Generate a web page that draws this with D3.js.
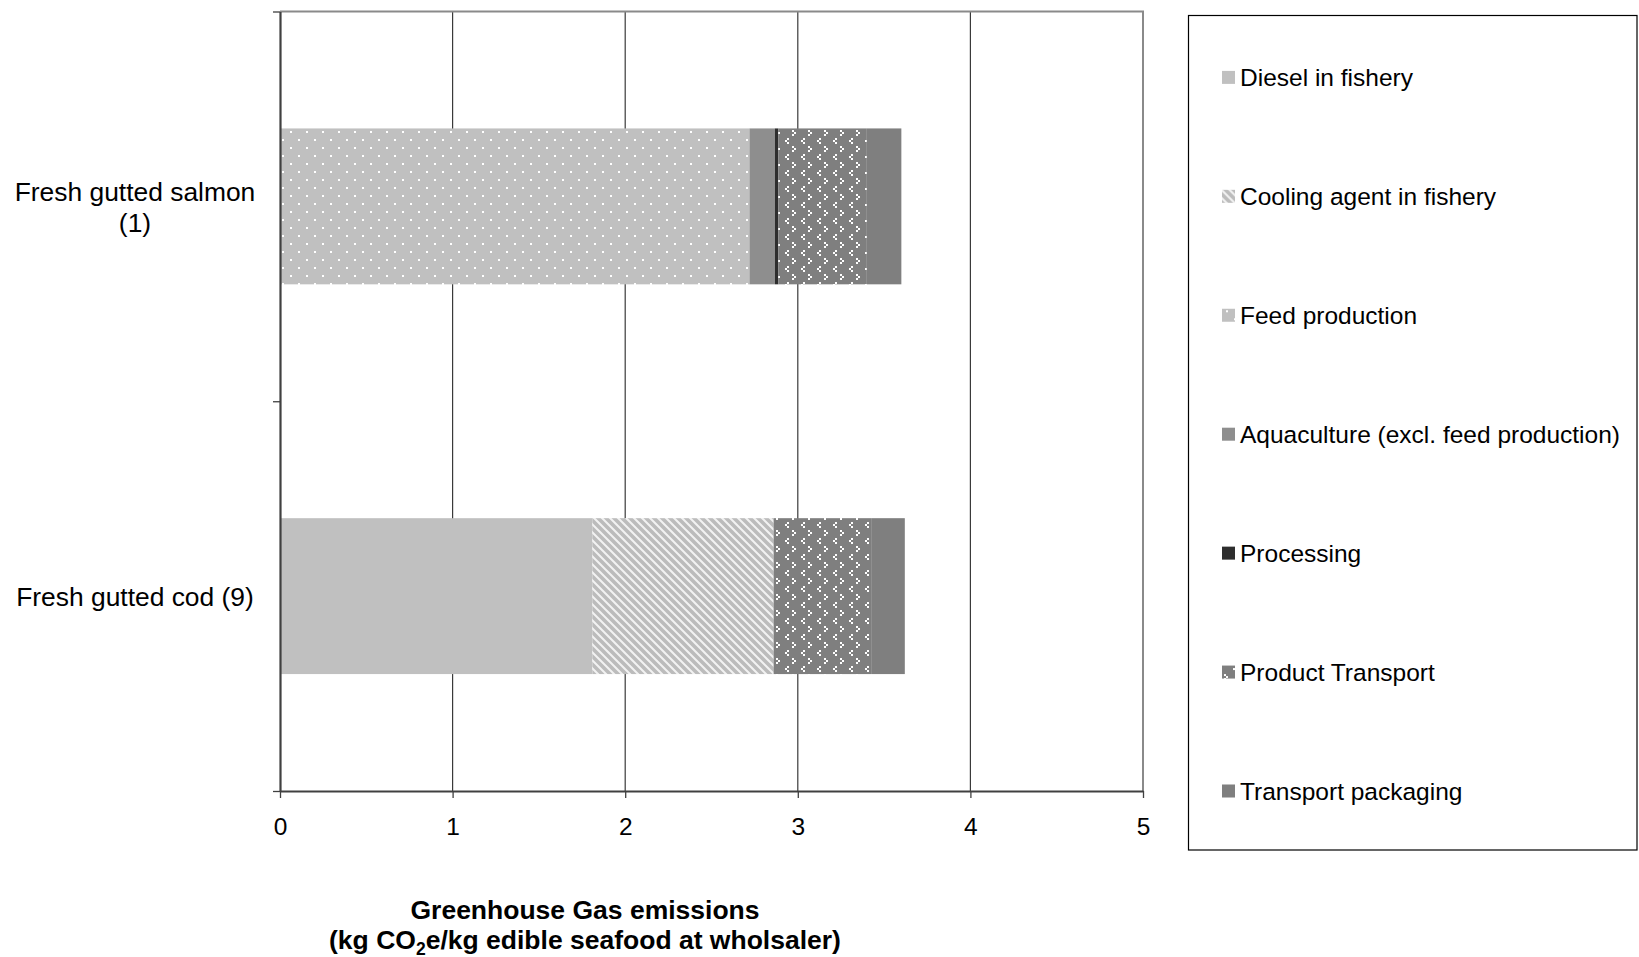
<!DOCTYPE html>
<html>
<head>
<meta charset="utf-8">
<script src="https://cdn.jsdelivr.net/npm/d3@7"></script>
<style>
  html, body { margin: 0; padding: 0; background: #fff; }
  svg { display: block; font-family: "Liberation Sans", Arial, sans-serif; }
</style>
</head>
<body>
<svg id="chart" width="1639" height="957"></svg>
<script>
// Products (top to bottom) and their label lines
const categories = ["salmon", "cod"];
const categoryLabels = [["Fresh gutted salmon", "(1)"], ["Fresh gutted cod (9)"]];

// Emission contributions, kg CO2e per kg edible seafood, per product [salmon, cod]
const seriesNames = [
  "Diesel in fishery",
  "Cooling agent in fishery",
  "Feed production",
  "Aquaculture (excl. feed production)",
  "Processing",
  "Product Transport",
  "Transport packaging"
];
const dieselInFishery = [0, 1.81];
const coolingAgent = [0, 1.05];
const feedProduction = [2.72, 0];
const aquaculture = [0.147, 0];
const processing = [0.02, 0];
const productTransport = [0.513, 0.565];
const transportPackaging = [0.2, 0.195];

const xTicks = [0, 1, 2, 3, 4, 5];

const seriesValues = [dieselInFishery, coolingAgent, feedProduction, aquaculture,
                      processing, productTransport, transportPackaging];
const table = categories.map((c, i) => {
  const row = { category: c };
  seriesNames.forEach((s, j) => row[s] = seriesValues[j][i]);
  return row;
});

const svg = d3.select("#chart");
const plot = { left: 280, right: 1143, top: 11.5, bottom: 791 };

const x = d3.scaleLinear().domain([0, 5]).range([plot.left, plot.right]);
const y = d3.scaleBand().domain(categories).range([plot.top, plot.bottom])
  .paddingInner(0.6).paddingOuter(0.3);

// ---- fill patterns ----
const defs = svg.append("defs");

// small white dots on light grey
const pDots = defs.append("pattern").attr("id", "pat-dots")
  .attr("patternUnits", "userSpaceOnUse").attr("width", 16).attr("height", 16);
pDots.append("rect").attr("width", 16).attr("height", 16).attr("fill", "#c0c0c0");
pDots.append("rect").attr("x", 2).attr("y", 3).attr("width", 2).attr("height", 2).attr("fill", "#fff");
pDots.append("rect").attr("x", 10).attr("y", 11).attr("width", 2).attr("height", 2).attr("fill", "#fff");

// light grey downward diagonal stripes
const pDiag = defs.append("pattern").attr("id", "pat-diag")
  .attr("patternUnits", "userSpaceOnUse").attr("width", 8).attr("height", 8);
pDiag.append("rect").attr("width", 8).attr("height", 8).attr("fill", "#f2f2f2");
pDiag.append("path").attr("d", "M-1,-1 L9,9 M-3,5 L3,11 M5,-3 L11,3")
  .attr("stroke", "#bcbcbc").attr("stroke-width", 3.6);

// white chevrons on mid grey
const pChev = defs.append("pattern").attr("id", "pat-chev")
  .attr("patternUnits", "userSpaceOnUse").attr("width", 16).attr("height", 16);
pChev.append("rect").attr("width", 16).attr("height", 16).attr("fill", "#7f7f7f");
[[8, 2], [10, 4], [8, 6]].forEach(([a, b]) =>
  pChev.append("rect").attr("x", a).attr("y", b).attr("width", 2).attr("height", 2).attr("fill", "#fff"));
[[3, 10], [1, 12], [3, 14]].forEach(([a, b]) =>
  pChev.append("rect").attr("x", a).attr("y", b).attr("width", 2).attr("height", 2).attr("fill", "#fff"));

const fills = {
  "Diesel in fishery": "#c0c0c0",
  "Cooling agent in fishery": "url(#pat-diag)",
  "Feed production": "url(#pat-dots)",
  "Aquaculture (excl. feed production)": "#8e8e8e",
  "Processing": "#2e2e2e",
  "Product Transport": "url(#pat-chev)",
  "Transport packaging": "#7f7f7f"
};

// ---- frame and gridlines ----
svg.append("g").selectAll("line").data(xTicks.filter(t => t > 0 && t < 5)).join("line")
  .attr("x1", d => x(d)).attr("x2", d => x(d))
  .attr("y1", plot.top).attr("y2", plot.bottom)
  .attr("stroke", "#3a3a3a").attr("stroke-width", 1.2);

svg.append("path")
  .attr("d", `M${plot.left},${plot.top} H${plot.right} V${plot.bottom}`)
  .attr("fill", "none").attr("stroke", "#8a8a8a").attr("stroke-width", 2);

// ---- stacked bars ----
const stacked = d3.stack().keys(seriesNames)(table);
svg.append("g").selectAll("g").data(stacked).join("g")
  .attr("fill", d => fills[d.key])
  .selectAll("rect").data(d => d).join("rect")
  .attr("x", d => x(d[0]))
  .attr("width", d => Math.max(0, x(d[1]) - x(d[0])))
  .attr("y", d => y(d.data.category))
  .attr("height", y.bandwidth());

// ---- x axis ----
const xAxis = svg.append("g")
  .attr("transform", `translate(0,${plot.bottom})`)
  .call(d3.axisBottom(x).tickValues(xTicks).tickSize(7).tickSizeOuter(0).tickPadding(20).tickFormat(d3.format("d")));
xAxis.select(".domain").attr("stroke", "#404040").attr("stroke-width", 2.2);
xAxis.selectAll(".tick line").attr("stroke", "#404040").attr("stroke-width", 1.3);
xAxis.selectAll(".tick text").attr("font-size", 24.5).attr("fill", "#000")
  .attr("font-family", "Liberation Sans, Arial, sans-serif");

// ---- y axis (category separators as ticks) ----
const yEdges = d3.scaleLinear().domain([0, categories.length]).range([plot.top, plot.bottom]);
const yAxis = svg.append("g")
  .attr("transform", `translate(${plot.left},0)`)
  .call(d3.axisLeft(yEdges).ticks(categories.length).tickSize(7).tickSizeOuter(0).tickFormat(""));
yAxis.select(".domain").attr("stroke", "#404040").attr("stroke-width", 2.2);
yAxis.selectAll(".tick line").attr("stroke", "#404040").attr("stroke-width", 1.3);

// ---- category labels ----
const catG = svg.append("g").attr("font-size", 26.4).attr("fill", "#000").attr("text-anchor", "middle");
categories.forEach((c, i) => {
  const lines = categoryLabels[i];
  const lh = 31.5;
  const cy = y(c) + y.bandwidth() / 2;
  const t = catG.append("text").attr("x", 135);
  lines.forEach((ln, k) => {
    t.append("tspan").attr("x", 135)
      .attr("y", cy + 10 + (k - (lines.length - 1) / 2) * lh)
      .text(ln);
  });
});

// ---- axis title ----
const title = svg.append("text").attr("x", 585).attr("text-anchor", "middle")
  .attr("font-size", 26.5).attr("font-weight", "bold").attr("fill", "#000");
title.append("tspan").attr("x", 585).attr("y", 918.5).text("Greenhouse Gas emissions");
const l2 = title.append("tspan").attr("x", 585).attr("y", 948.5);
l2.append("tspan").text("(kg CO");
l2.append("tspan").attr("font-size", 17.5).attr("dy", 6).text("2");
l2.append("tspan").attr("dy", -6).text("e/kg edible seafood at wholsaler)");

// ---- legend ----
svg.append("rect").attr("x", 1188.5).attr("y", 15.5).attr("width", 448.5).attr("height", 834.5)
  .attr("fill", "none").attr("stroke", "#000").attr("stroke-width", 1.2);
const legY = d3.scalePoint().domain(seriesNames).range([77.4, 791]);
const leg = svg.append("g").selectAll("g").data(seriesNames).join("g")
  .attr("transform", d => `translate(0,${legY(d)})`);
leg.append("rect").attr("x", 1222).attr("y", -6.5).attr("width", 13).attr("height", 13)
  .attr("fill", d => fills[d]);
leg.append("text").attr("x", 1240).attr("y", 8.7).attr("font-size", 24.5).attr("fill", "#000")
  .text(d => d);
</script>
</body>
</html>
